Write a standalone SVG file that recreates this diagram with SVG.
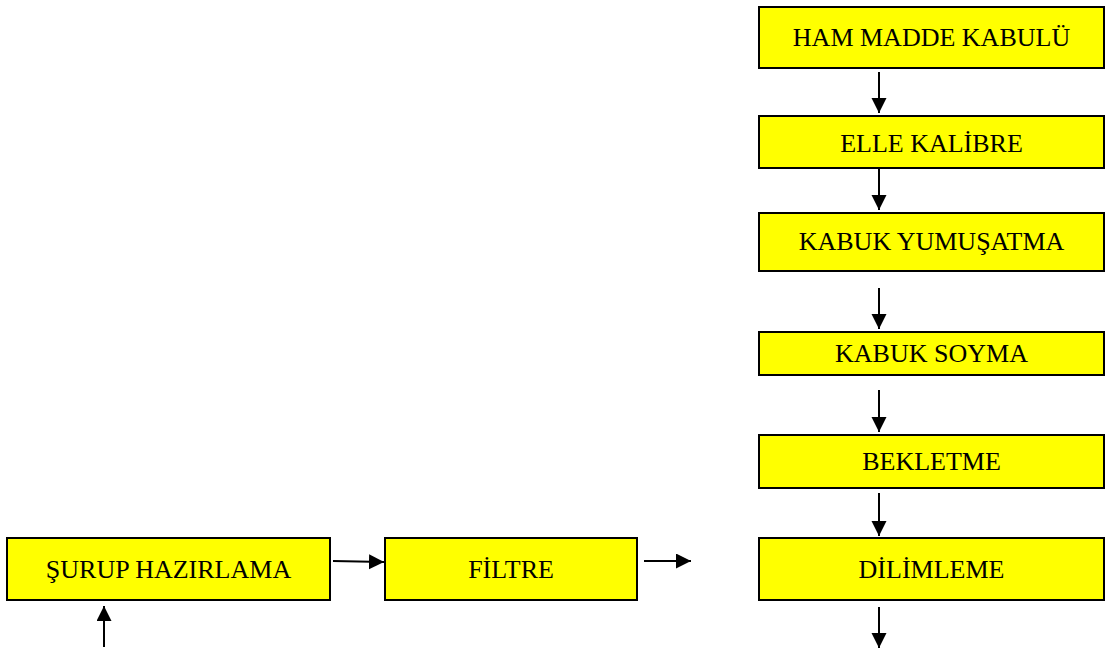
<svg xmlns="http://www.w3.org/2000/svg" width="1109" height="649" viewBox="0 0 1109 649">
<style>
.box{fill:#ffff00;stroke:#000;stroke-width:2}
.lbl{font-family:"Liberation Serif","Times New Roman",serif;font-size:26px;fill:#000;text-anchor:middle}
.arr{stroke:#000;stroke-width:2;fill:none;marker-end:url(#ah)}
</style>
<defs>
<marker id="ah" markerUnits="userSpaceOnUse" markerWidth="16" markerHeight="16" refX="15" refY="7.5" orient="auto" viewBox="0 0 16 16">
<path d="M0,0 L15,7.5 L0,15 z" fill="#000"/>
</marker>
</defs>
<rect width="1109" height="649" fill="#fff"/>
<g id="n1"><rect class="box" x="759" y="7" width="345" height="61"/><text class="lbl" x="931.5" y="46">HAM MADDE KABULÜ</text></g>
<g id="n2"><rect class="box" x="759" y="116" width="345" height="52"/><text class="lbl" x="931.5" y="152">ELLE KALİBRE</text></g>
<g id="n3"><rect class="box" x="759" y="213" width="345" height="58"/><text class="lbl" x="931.5" y="250">KABUK YUMUŞATMA</text></g>
<g id="n4"><rect class="box" x="759" y="332" width="345" height="43"/><text class="lbl" x="931.5" y="362">KABUK SOYMA</text></g>
<g id="n5"><rect class="box" x="759" y="435" width="345" height="53"/><text class="lbl" x="931.5" y="470">BEKLETME</text></g>
<g id="n6"><rect class="box" x="759" y="538" width="345" height="62"/><text class="lbl" x="931.5" y="578">DİLİMLEME</text></g>
<g id="n7"><rect class="box" x="7" y="538" width="323" height="62"/><text class="lbl" x="168.5" y="578">ŞURUP HAZIRLAMA</text></g>
<g id="n8"><rect class="box" x="385" y="538" width="252" height="62"/><text class="lbl" x="511" y="578">FİLTRE</text></g>
<g id="connectors">
<line class="arr" x1="879" y1="72" x2="879" y2="113"/>
<line class="arr" x1="879" y1="168" x2="879" y2="210"/>
<line class="arr" x1="879" y1="288" x2="879" y2="329"/>
<line class="arr" x1="879" y1="390" x2="879" y2="432"/>
<line class="arr" x1="879" y1="493" x2="879" y2="536"/>
<line class="arr" x1="879" y1="607" x2="879" y2="648"/>
<line class="arr" x1="333" y1="561" x2="384" y2="562"/>
<line class="arr" x1="644" y1="561" x2="691" y2="561"/>
<line class="arr" x1="104" y1="647" x2="104" y2="606"/>
</g>
</svg>
